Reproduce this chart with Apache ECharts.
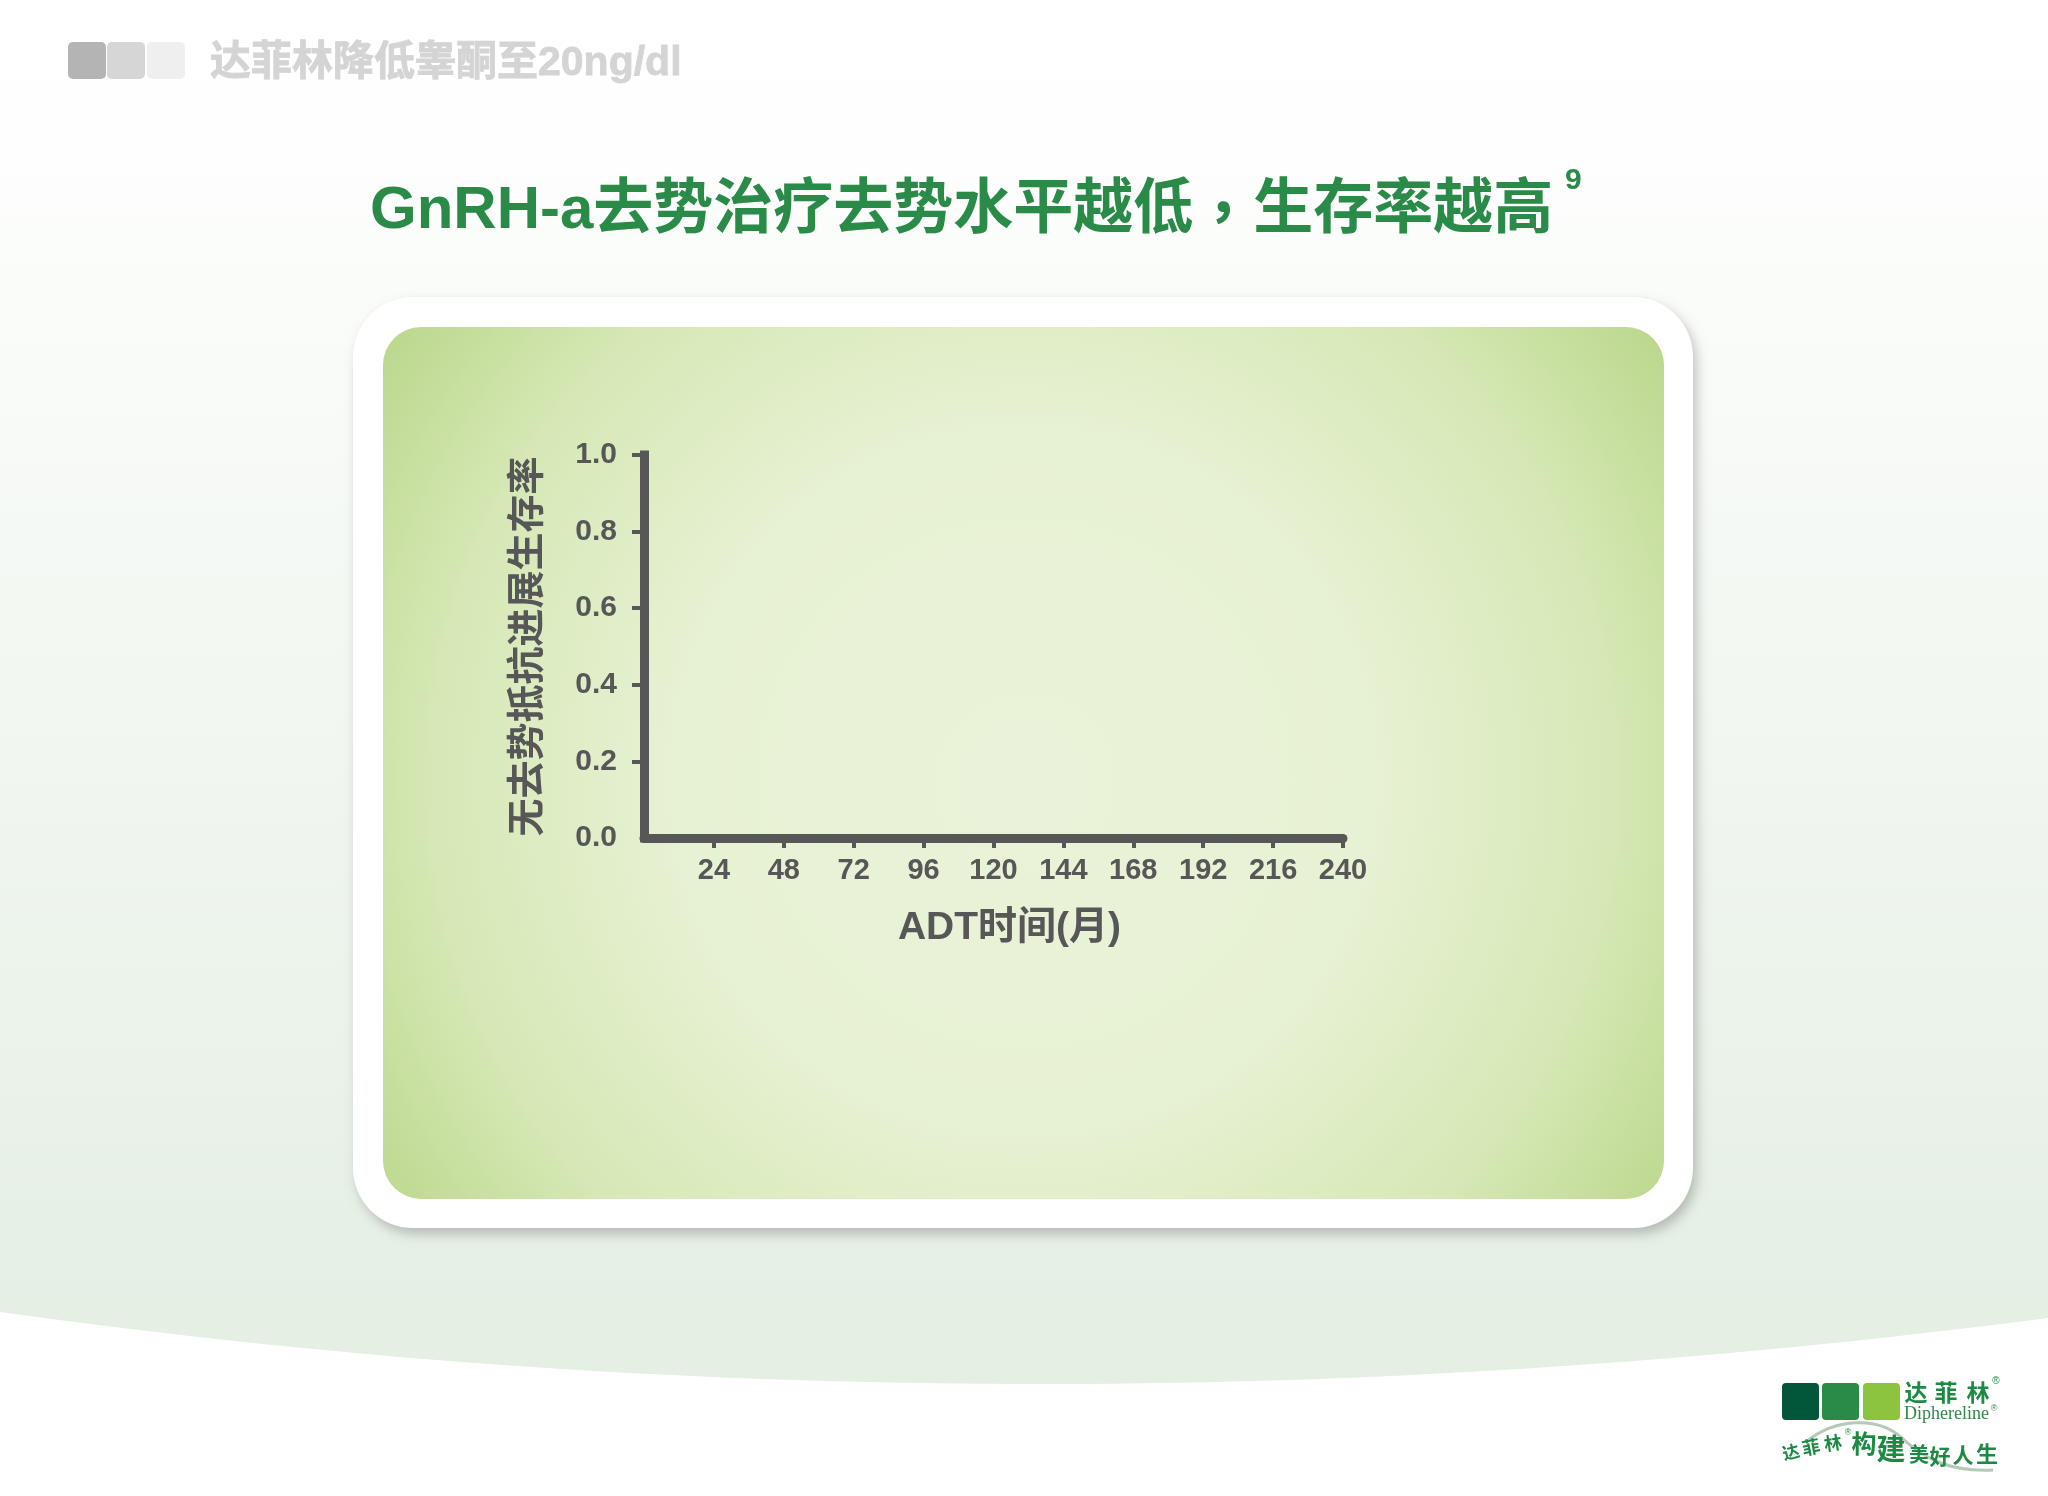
<!DOCTYPE html>
<html>
<head>
<meta charset="utf-8">
<script src="https://cdn.jsdelivr.net/npm/echarts@6/dist/echarts.min.js"></script>
<style>
html,body{margin:0;padding:0;background:#ffffff;}
#chart{width:2048px;height:1496px;}
</style>
</head>
<body>
<div id="chart"></div>
<script>
// ---- texts ----
const headerText = '达菲林降低睾酮至20ng/dl';
const titlePartA = 'GnRH-a去势治疗去势水平越低';
const titleComma = '，';
const titlePartB = '生存率越高';
const titleRef = '9';
const xAxisName = 'ADT时间(月)';
const yAxisName = '无去势抵抗进展生存率';
const brandName = ['达', '菲', '林'];
const brandLatin = 'Diphereline';
const sloganChars = ['达', '菲', '林', '构', '建', '美', '好', '人', '生'];

// ---- axes / data ----
const xMin = 0, xMax = 240, xStep = 24;
const yMin = 0, yMax = 1, yStep = 0.2;
const xTickLabels = [24, 48, 72, 96, 120, 144, 168, 192, 216, 240];
const yTickLabels = [0.0, 0.2, 0.4, 0.6, 0.8, 1.0];
const yTickMarks = [0.2, 0.4, 0.6, 0.8, 1.0];
const survivalSeries = []; // the reference shows empty axes, no curves

const AX = '#575757';
const LATIN = "'Liberation Sans', 'Noto Sans CJK SC', sans-serif";
const GREEN = '#2a8a48';

const chart = echarts.init(document.getElementById('chart'), null, {renderer: 'canvas'});

const bg = [];
// page background
bg.push({type: 'rect', z: -100, shape: {x: 0, y: 0, width: 2048, height: 1496},
  style: {fill: new echarts.graphic.LinearGradient(0, 0, 0, 1, [
    {offset: 0, color: '#ffffff'}, {offset: 0.1, color: '#fdfefd'},
    {offset: 0.88, color: '#e5efe4'}, {offset: 1, color: '#e4eee3'}])}});
// white curved band at bottom (quadratic edge sampled into a polygon)
const wavePts = [];
for (let i = 0; i <= 64; i++) {
  const t = i / 64;
  const px = 2 * (1 - t) * t * 1010 + t * t * 2048;
  const py = (1 - t) * (1 - t) * 1312 + 2 * (1 - t) * t * 1453 + t * t * 1318;
  wavePts.push([px, py]);
}
wavePts.push([2048, 1496], [0, 1496]);
bg.push({type: 'polygon', z: -99, shape: {points: wavePts}, style: {fill: '#ffffff'}});
// header squares
[['#b4b4b4', 68], ['#d6d6d6', 107], ['#efefef', 147]].forEach(function (s) {
  bg.push({type: 'rect', z: -90, shape: {x: s[1], y: 42, width: 38, height: 37, r: 5}, style: {fill: s[0]}});
});
// white card with shadow
bg.push({type: 'rect', z: -80, shape: {x: 353, y: 297, width: 1340, height: 931, r: 60},
  style: {fill: '#ffffff', shadowBlur: 12, shadowOffsetX: 4, shadowOffsetY: 6, shadowColor: 'rgba(0,0,0,0.22)'}});
// inner green panel
bg.push({type: 'rect', z: -79, shape: {x: 383, y: 327, width: 1281, height: 872, r: 38},
  style: {fill: new echarts.graphic.RadialGradient(0.5, 0.52, 0.9, [
    {offset: 0, color: '#eaf3d9'}, {offset: 0.45, color: '#e7f1d3'},
    {offset: 0.75, color: '#d6e8b6'}, {offset: 1, color: '#bad78a'}])}});
// superscript reference
bg.push({type: 'text', z: 10, style: {text: titleRef, x: 1565, y: 181, font: 'bold 30px ' + LATIN,
  fill: GREEN, textAlign: 'left', textVerticalAlign: 'middle'}});
// logo squares
[['#02573a', 1782], ['#2a8a48', 1822], ['#8cc43f', 1863]].forEach(function (s) {
  bg.push({type: 'rect', z: -50, shape: {x: s[1], y: 1383, width: 37, height: 37, r: 4}, style: {fill: s[0]}});
});
// logo brand name
[1916, 1946, 1978].forEach(function (cx, i) {
  bg.push({type: 'text', z: -50, style: {text: brandName[i], x: cx, y: 1392, font: 'bold 23px "Noto Sans CJK SC"',
    fill: '#1d8a44', textAlign: 'center', textVerticalAlign: 'middle'}});
});
bg.push({type: 'text', z: -50, style: {text: '®', x: 1996, y: 1381, font: '10px "Liberation Sans"', fill: '#1d8a44',
  textAlign: 'center', textVerticalAlign: 'middle'}});
bg.push({type: 'text', z: -50, style: {text: brandLatin, x: 1904, y: 1414, font: '18px "Liberation Serif"', fill: '#2a8a48',
  textAlign: 'left', textVerticalAlign: 'middle'}});
bg.push({type: 'text', z: -50, style: {text: '®', x: 1994, y: 1409, font: '9px "Liberation Sans"', fill: '#2a8a48',
  textAlign: 'center', textVerticalAlign: 'middle'}});
// slogan swoosh
bg.push({type: 'bezierCurve', z: -51, shape: {x1: 1806, y1: 1442, cpx1: 1835, cpy1: 1418, cpx2: 1878, cpy2: 1416, x2: 1902, y2: 1438},
  style: {fill: null, stroke: 'rgba(130,165,135,0.6)', lineWidth: 3}});
bg.push({type: 'bezierCurve', z: -51, shape: {x1: 1902, y1: 1438, cpx1: 1925, cpy1: 1460, cpx2: 1952, cpy2: 1472, x2: 1993, y2: 1470},
  style: {fill: null, stroke: 'rgba(130,165,135,0.6)', lineWidth: 3}});
// slogan characters
const sloganPos = [[1791, 1452, 17, -0.25], [1811, 1447, 18, -0.2], [1833, 1443, 18, -0.15], [1864, 1443, 25, 0],
  [1891, 1449, 29, 0], [1919, 1454, 20, 0], [1940, 1456, 21, 0], [1963, 1455, 21, 0], [1987, 1454, 22, 0]];
sloganPos.forEach(function (p, i) {
  bg.push({type: 'text', z: -50, x: p[0], y: p[1], rotation: -p[3], style: {text: sloganChars[i], x: 0, y: 0,
    font: 'bold ' + p[2] + 'px "Noto Sans CJK SC"', fill: '#1d8a44', textAlign: 'center', textVerticalAlign: 'middle'}});
});
bg.push({type: 'text', z: -50, style: {text: '®', x: 1848, y: 1433, font: '9px "Liberation Sans"', fill: '#1d8a44',
  textAlign: 'center', textVerticalAlign: 'middle'}});

const titleRich = {
  a: {fontSize: 60, fontWeight: 'bold', color: GREEN, fontFamily: LATIN},
  c: {fontSize: 60, fontWeight: 'bold', color: GREEN, fontFamily: "'Noto Sans CJK TC', sans-serif"}
};

const option = {
  animation: false,
  title: [
    {text: '{a|' + titlePartA + '}{c|' + titleComma + '}{a|' + titlePartB + '}', left: 370, top: 181, padding: 0,
      textStyle: {fontSize: 60, fontWeight: 'bold', color: GREEN, fontFamily: LATIN, rich: titleRich}},
    {text: headerText, left: 210, top: 43, padding: 0,
      textStyle: {fontSize: 41, fontWeight: 'bold', color: '#d4d4d4', fontFamily: LATIN,
        textBorderColor: 'rgba(175,175,175,0.55)', textBorderWidth: 0.8}}
  ],
  graphic: {elements: bg},
  grid: {left: 644, right: 705, top: 455, bottom: 658, containLabel: false},
  xAxis: {
    type: 'value', min: xMin, max: xMax, interval: xStep,
    name: xAxisName, nameLocation: 'middle', nameGap: 71,
    nameTextStyle: {fontSize: 39, fontWeight: 'bold', color: AX, fontFamily: LATIN, padding: [0, 0, 0, 32]},
    axisLine: {show: true, onZero: false, lineStyle: {color: AX, width: 9}},
    axisTick: {show: true, inside: false, length: 10, customValues: xTickLabels, lineStyle: {color: AX, width: 4}},
    axisLabel: {show: true, margin: 18, customValues: xTickLabels,
      fontSize: 29, fontWeight: 'bold', color: AX, fontFamily: LATIN},
    splitLine: {show: false}
  },
  yAxis: {
    type: 'value', min: yMin, max: yMax, interval: yStep,
    name: yAxisName, nameLocation: 'middle', nameGap: 100, nameRotate: 90,
    nameTextStyle: {fontSize: 38, fontWeight: 'bold', color: AX, fontFamily: "'Noto Sans CJK SC', sans-serif"},
    axisLine: {show: true, onZero: false, lineStyle: {color: AX, width: 9, cap: 'square'}},
    axisTick: {show: true, inside: false, length: 12, customValues: yTickMarks, lineStyle: {color: AX, width: 4}},
    axisLabel: {show: true, margin: 27, customValues: yTickLabels, formatter: function (v) { return Number(v).toFixed(1); },
      fontSize: 30, fontWeight: 'bold', color: AX, fontFamily: LATIN},
    splitLine: {show: false}
  },
  series: [{type: 'line', data: survivalSeries, showSymbol: false}]
};
chart.setOption(option);
</script>
</body>
</html>
